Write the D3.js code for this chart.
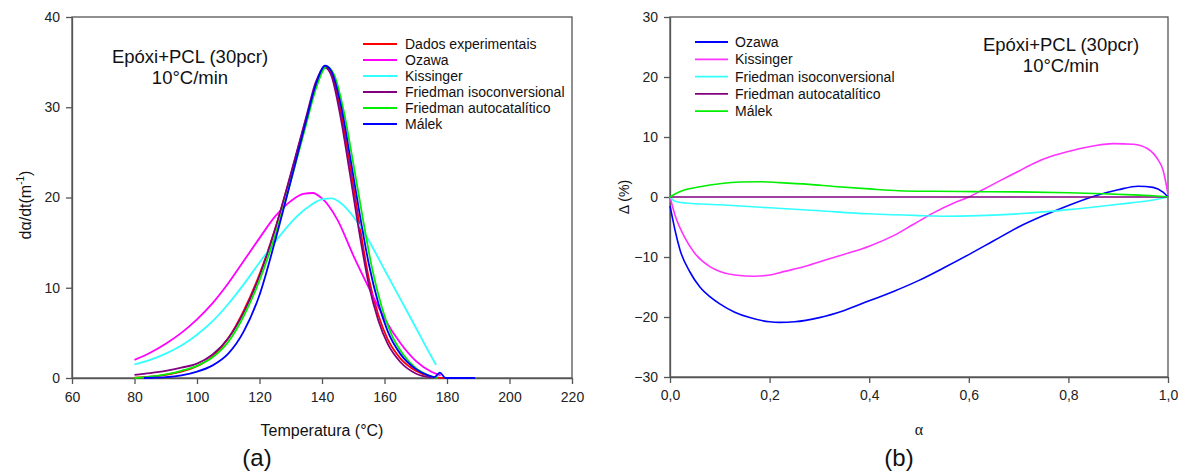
<!DOCTYPE html>
<html><head><meta charset="utf-8">
<script src="https://cdn.jsdelivr.net/npm/d3@7"></script>
<style>
body{margin:0;background:#fff;}
svg{display:block;font-family:Arial,"Liberation Sans",sans-serif;}
.ax path,.ax line{stroke:#555;stroke-width:1.3;}
.ax text{font-size:14px;fill:#222;font-family:Arial,"Liberation Sans",sans-serif;}
</style></head>
<body>
<script>
// ---------- Panel (a) data: dα/dt vs Temperatura ----------
const xTicksA = [60,80,100,120,140,160,180,200,220];
const yTicksA = [0,10,20,30,40];
const legendA = ["Dados experimentais","Ozawa","Kissinger","Friedman isoconversional","Friedman autocatalítico","Málek"];

const tExp = [80,85,90,95,100,105,110,115,120,125,130,135,138,141,143,146,149,152,155,158,161,165,170,175,178,183];
const vExp = [0.05,0.15,0.35,0.7,1.3,2.4,4.4,7.5,11.5,16.5,22.5,28.8,32.5,34.5,33.8,29.5,23.5,17,11,7,4.3,2.2,0.8,0.15,0.02,0];

const tOzawaA = [80,85,90,95,100,105,110,115,120,125,130,134,137,140,145,150,155,160,165,170,175,178];
const vOzawaA = [2.0,2.8,3.8,5.0,6.5,8.3,10.5,13.0,15.5,17.9,19.6,20.4,20.5,19.9,17.5,13.6,10.0,6.6,3.9,1.9,0.7,0.3];

const tKissA = [80,85,90,95,100,105,110,115,120,125,130,135,140,143,146,150,155,160,165,170,174,176.5];
const vKissA = [1.5,2.0,2.7,3.6,4.8,6.3,8.2,10.4,12.8,15.1,17.2,18.8,19.8,19.9,19.4,17.9,15.2,12.0,8.8,5.6,3.0,1.45];

const tFrIsoA = [80,85,90,95,100,105,110,115,120,125,130,135,138,141,143,146,149,152,155,158,161,165,170,175];
const vFrIsoA = [0.35,0.55,0.8,1.15,1.6,2.6,4.4,7.3,11.3,16.5,22.6,29,32.8,34.4,33.5,28.8,22.5,16,10.3,6.4,3.8,1.8,0.5,0.05];

const tFrAutoA = [80,85,90,95,100,105,110,115,120,125,130,135,138,141.5,144,147,150,153,156,159,162,166,170,174,177];
const vFrAutoA = [0,0.15,0.4,0.8,1.35,2.3,4.0,6.9,10.8,15.8,21.8,28.2,32,34.5,33.5,29.5,23.8,17.8,12.2,8,5,2.6,1.1,0.3,0];

const tMalekA = [83,86,90,95,100,105,110,115,120,125,130,135,138,141,143,146,149,152,155,158,161,165,170,174,176,177.7,179.5,189];
const vMalekA = [0,0.03,0.1,0.3,0.7,1.4,2.7,5.2,9.2,15.2,21.8,28.6,32.5,34.6,34,30.3,24.5,18.3,12.6,8.3,5.2,2.7,1.0,0.3,0.1,0.6,0,0];

// ---------- Panel (b) data: Δ(%) vs α ----------
const xTicksB = [0,0.2,0.4,0.6,0.8,1.0];
const yTicksB = [-30,-20,-10,0,10,20,30];
const legendB = ["Ozawa","Kissinger","Friedman isoconversional","Friedman autocatalítico","Málek"];

const aOzawaB = [0,0.005,0.01,0.02,0.04,0.06,0.08,0.1,0.13,0.16,0.2,0.22,0.25,0.3,0.35,0.4,0.45,0.5,0.55,0.6,0.65,0.7,0.75,0.8,0.85,0.9,0.94,0.97,0.99,1.0];
const dOzawaB = [-1.5,-3.5,-5.5,-8.8,-12.5,-15,-16.6,-17.8,-19.2,-20.1,-20.8,-20.9,-20.8,-20.1,-18.9,-17.3,-15.7,-13.9,-11.8,-9.6,-7.3,-5.0,-3.1,-1.4,0.1,1.2,1.8,1.6,0.8,0.0];

const aKissB = [0,0.01,0.03,0.05,0.08,0.1,0.13,0.17,0.2,0.23,0.27,0.32,0.36,0.4,0.45,0.49,0.53,0.57,0.6,0.63,0.66,0.7,0.73,0.77,0.81,0.85,0.89,0.93,0.96,0.98,0.99,1.0];
const dKissB = [0,-3,-6.8,-9.4,-11.6,-12.4,-13,-13.2,-13,-12.4,-11.6,-10.3,-9.3,-8.2,-6.4,-4.5,-2.6,-1.0,0,1.3,2.6,4.3,5.6,6.9,7.8,8.5,8.9,8.8,8.0,6.2,4.5,0.5];

const aFrIsoB = [0,0.01,0.03,0.1,0.2,0.3,0.4,0.5,0.55,0.62,0.7,0.8,0.9,0.97,1.0];
const dFrIsoB = [0,-0.7,-1.0,-1.3,-1.8,-2.3,-2.8,-3.1,-3.2,-3.1,-2.8,-2.1,-1.2,-0.5,0];

const aFrAutoB = [0,1];
const dFrAutoB = [0,0];

const aMalekB = [0,0.01,0.03,0.06,0.1,0.14,0.18,0.22,0.28,0.33,0.4,0.46,0.53,0.61,0.7,0.8,0.87,0.93,0.97,1.0];
const dMalekB = [0,0.5,1.2,1.7,2.2,2.5,2.55,2.4,2.1,1.75,1.35,1.05,0.95,0.9,0.85,0.72,0.55,0.35,0.2,0];

const colorsA = ["#ff0000","#ff00ff","#33ffff","#800080","#00ee00","#0000ff"];
const colorsB = ["#0000ff","#ff33ff","#33ffff","#800080","#00ee00"];

// ---------- drawing ----------
const W = 1178, H = 475;
const svg = d3.select("body").append("svg").attr("width", W).attr("height", H);

function zip(xs, ys){ return xs.map((x,i)=>[x, ys[i]]); }

// Panel (a)
const xA = d3.scaleLinear().domain([60,220]).range([72,572]);
const yA = d3.scaleLinear().domain([0,40]).range([378,17]);

const gA = svg.append("g");
gA.append("rect").attr("x",72).attr("y",17).attr("width",500).attr("height",361)
  .attr("fill","none").attr("stroke","#555").attr("stroke-width",1.3);
gA.append("g").attr("class","ax").attr("transform","translate(0,378)")
  .call(d3.axisBottom(xA).tickValues(xTicksA).tickSize(6).tickSizeOuter(0).tickPadding(8).tickFormat(d3.format("d")));
gA.append("g").attr("class","ax").attr("transform","translate(72,0)")
  .call(d3.axisLeft(yA).tickValues(yTicksA).tickSize(6).tickSizeOuter(0).tickPadding(6).tickFormat(d3.format("d")));

const seriesA = [zip(tExp,vExp), zip(tOzawaA,vOzawaA), zip(tKissA,vKissA), zip(tFrIsoA,vFrIsoA), zip(tFrAutoA,vFrAutoA), zip(tMalekA,vMalekA)];
const lineA = d3.line().x(d=>xA(d[0])).y(d=>yA(d[1])).curve(d3.curveMonotoneX);
seriesA.forEach((s,i)=>{
  gA.append("path").datum(s).attr("d",lineA).attr("fill","none")
    .attr("stroke",colorsA[i]).attr("stroke-width",1.8);
});

// legend (a)
legendA.forEach((name,i)=>{
  const y = 44 + i*16;
  gA.append("line").attr("x1",363).attr("x2",397).attr("y1",y).attr("y2",y)
    .attr("stroke",colorsA[i]).attr("stroke-width",1.8);
  gA.append("text").attr("x",405).attr("y",y+5).attr("font-size",14).attr("fill","#111").text(name);
});

// title (a)
gA.append("text").attr("x",190).attr("y",63).attr("text-anchor","middle").attr("font-size",18.5).attr("fill","#111").text("Epóxi+PCL (30pcr)");
gA.append("text").attr("x",190).attr("y",84).attr("text-anchor","middle").attr("font-size",18.5).attr("fill","#111").text("10°C/min");

// axis titles (a)
gA.append("text").attr("x",322).attr("y",436).attr("text-anchor","middle").attr("font-size",16).attr("fill","#111").text("Temperatura (°C)");
const yt = gA.append("text").attr("transform","translate(31,205) rotate(-90)").attr("text-anchor","middle").attr("font-size",16).attr("fill","#111");
yt.append("tspan").text("dα/dt(m");
yt.append("tspan").attr("font-size",10).attr("dy",-7).text("-1");
yt.append("tspan").attr("dy",7).text(")");
gA.append("text").attr("x",257).attr("y",466).attr("text-anchor","middle").attr("font-size",24).attr("fill","#111").text("(a)");

// Panel (b)
const xB = d3.scaleLinear().domain([0,1]).range([670,1168]);
const yB = d3.scaleLinear().domain([-30,30]).range([377,17]);
const gB = svg.append("g");
gB.append("rect").attr("x",670).attr("y",17).attr("width",498).attr("height",360)
  .attr("fill","none").attr("stroke","#555").attr("stroke-width",1.3);
const commaFmt = d=>d3.format(".1f")(d).replace(".",",");
gB.append("g").attr("class","ax").attr("transform","translate(0,377)")
  .call(d3.axisBottom(xB).tickValues(xTicksB).tickSize(6).tickSizeOuter(0).tickPadding(7).tickFormat(commaFmt));
gB.append("g").attr("class","ax").attr("transform","translate(670,0)")
  .call(d3.axisLeft(yB).tickValues(yTicksB).tickSize(6).tickSizeOuter(0).tickPadding(6).tickFormat(d3.format("d")));

const seriesB = [zip(aOzawaB,dOzawaB), zip(aKissB,dKissB), zip(aFrIsoB,dFrIsoB), zip(aFrAutoB,dFrAutoB), zip(aMalekB,dMalekB)];
const lineB = d3.line().x(d=>xB(d[0])).y(d=>yB(d[1])).curve(d3.curveMonotoneX);
seriesB.forEach((s,i)=>{
  gB.append("path").datum(s).attr("d",lineB).attr("fill","none")
    .attr("stroke",colorsB[i]).attr("stroke-width",1.6);
});

legendB.forEach((name,i)=>{
  const y = 42 + i*17.3;
  gB.append("line").attr("x1",695).attr("x2",728).attr("y1",y).attr("y2",y)
    .attr("stroke",colorsB[i]).attr("stroke-width",1.8);
  gB.append("text").attr("x",735).attr("y",y+5).attr("font-size",14).attr("fill","#111").text(name);
});

gB.append("text").attr("x",1061).attr("y",51).attr("text-anchor","middle").attr("font-size",18.5).attr("fill","#111").text("Epóxi+PCL (30pcr)");
gB.append("text").attr("x",1061).attr("y",72).attr("text-anchor","middle").attr("font-size",18.5).attr("fill","#111").text("10°C/min");

gB.append("text").attr("x",919).attr("y",435).attr("text-anchor","middle").attr("font-size",16).attr("font-family","'Liberation Serif',serif").attr("fill","#111").text("α");
gB.append("text").attr("transform","translate(629,197) rotate(-90)").attr("text-anchor","middle").attr("font-size",14).attr("fill","#111").text("Δ (%)");
gB.append("text").attr("x",899).attr("y",466).attr("text-anchor","middle").attr("font-size",24).attr("fill","#111").text("(b)");
</script>
</body></html>
